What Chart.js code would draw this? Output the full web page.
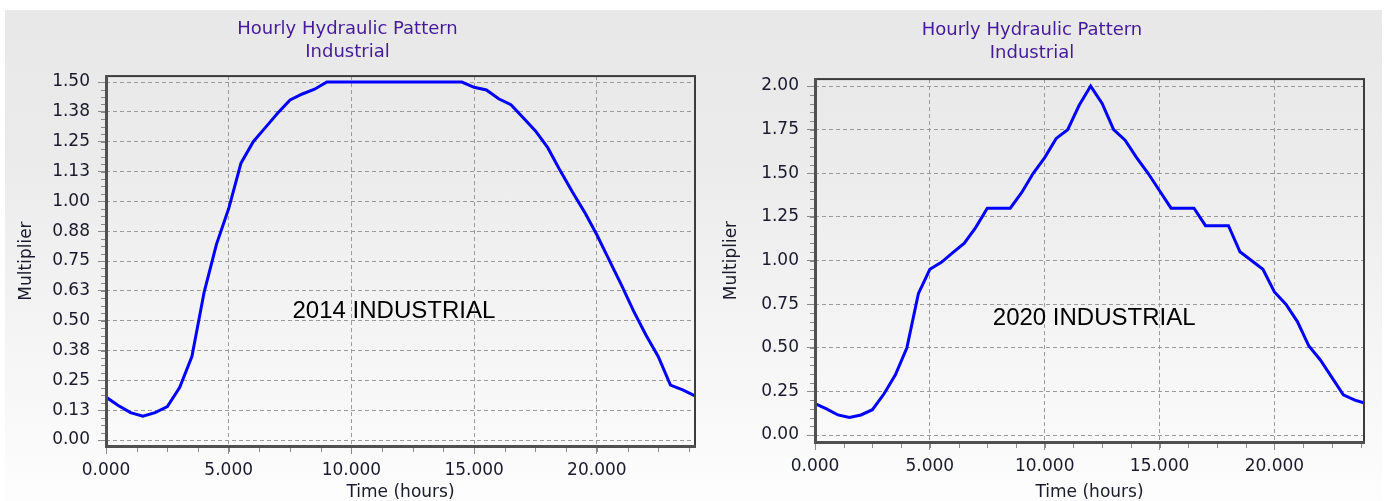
<!DOCTYPE html>
<html>
<head>
<meta charset="utf-8">
<script src="https://cdn.jsdelivr.net/npm/chart.js@4.4.0/dist/chart.umd.min.js"></script>
<style>
  html, body { margin: 0; padding: 0; background: #fff; }
  body { width: 1390px; height: 501px; position: relative; overflow: hidden; }
  #panel {
    position: absolute; left: 5px; top: 10px; width: 1377px; height: 491px;
    background: linear-gradient(to bottom, #e8e8e8 0%, #ebebeb 30%, #fdfdfd 100%);
  }
  canvas { position: absolute; top: 0; }
  #chart2014 { left: 0; }
  #chart2020 { left: 700px; }
</style>
</head>
<body>
<div id="panel"></div>
<canvas id="chart2014" width="700" height="501"></canvas>
<canvas id="chart2020" width="690" height="501"></canvas>
<script>
// hours of the day (half-hour steps)
const hours = [0, 0.5, 1, 1.5, 2, 2.5, 3, 3.5, 4, 4.5, 5, 5.5, 6, 6.5, 7, 7.5, 8, 8.5,
  9, 9.5, 10, 10.5, 11, 11.5, 12, 12.5, 13, 13.5, 14, 14.5, 15, 15.5, 16, 16.5,
  17, 17.5, 18, 18.5, 19, 19.5, 20, 20.5, 21, 21.5, 22, 22.5, 23, 23.5, 24];

// 2014 industrial multiplier
const mult2014 = [0.18, 0.145, 0.115, 0.10, 0.115, 0.14, 0.22, 0.35, 0.62, 0.82, 0.97,
  1.16, 1.25, 1.31, 1.37, 1.425, 1.45, 1.47, 1.50, 1.50, 1.50, 1.50, 1.50, 1.50,
  1.50, 1.50, 1.50, 1.50, 1.50, 1.50, 1.478, 1.467, 1.43, 1.405, 1.35, 1.295, 1.225,
  1.13, 1.04, 0.955, 0.86, 0.755, 0.65, 0.54, 0.44, 0.35, 0.23, 0.21, 0.185];

// 2020 industrial multiplier
const mult2020 = [0.18, 0.15, 0.115, 0.10, 0.115, 0.145, 0.235, 0.345, 0.50, 0.81, 0.95,
  0.99, 1.045, 1.10, 1.19, 1.30, 1.30, 1.30, 1.39, 1.50, 1.59, 1.70, 1.75, 1.89,
  2.00, 1.90, 1.75, 1.69, 1.59, 1.50, 1.40, 1.30, 1.30, 1.30, 1.20, 1.20, 1.20,
  1.05, 1.00, 0.95, 0.82, 0.75, 0.65, 0.51, 0.43, 0.33, 0.23, 0.20, 0.18];

// tick values and labels
const xTicks = [0, 5, 10, 15, 20];
const xTickLabels = ['0.000', '5.000', '10.000', '15.000', '20.000'];
const yTicks2014 = [0, 0.125, 0.25, 0.375, 0.5, 0.625, 0.75, 0.875, 1, 1.125, 1.25, 1.375, 1.5];
const yTickLabels2014 = ['0.00', '0.13', '0.25', '0.38', '0.50', '0.63', '0.75', '0.88', '1.00', '1.13', '1.25', '1.38', '1.50'];
const yTicks2020 = [0, 0.25, 0.5, 0.75, 1, 1.25, 1.5, 1.75, 2];
const yTickLabels2020 = ['0.00', '0.25', '0.50', '0.75', '1.00', '1.25', '1.50', '1.75', '2.00'];

const TICK_COLOR = '#1a1a2c';
const FONT = 'DejaVu Sans';

// frame, minor ticks and the in-plot caption
const framePlugin = {
  id: 'frame',
  afterDatasetsDraw(chart, args, opts) {
    const { ctx, chartArea: a, scales } = chart;
    ctx.save();
    ctx.strokeStyle = '#8a8a8a';
    ctx.lineWidth = 1;
    ctx.beginPath();
    for (let v = scales.y.min; v <= scales.y.max; v += 0.0001) {
      v = Math.ceil(v / opts.yMinor) * opts.yMinor;
      if (v > scales.y.max) break;
      const y = Math.round(scales.y.getPixelForValue(v)) + 0.5;
      ctx.moveTo(a.left - 5, y);
      ctx.lineTo(a.left, y);
    }
    for (let v = 0; v <= scales.x.max + 1e-9; v += opts.xMinor) {
      const x = Math.round(scales.x.getPixelForValue(v)) + 0.5;
      ctx.moveTo(x, a.bottom);
      ctx.lineTo(x, a.bottom + 6);
    }
    ctx.stroke();

    // plot border: heavier left and bottom
    ctx.fillStyle = '#3c3c3c';
    ctx.fillRect(a.left, a.top - 1, a.right - a.left, 2);
    ctx.fillRect(a.right - 1, a.top - 1, 2, a.bottom - a.top + 2);
    ctx.fillStyle = '#505050';
    ctx.fillRect(a.left - 1, a.top - 1, 3, a.bottom - a.top + 3);
    ctx.fillRect(a.left - 1, a.bottom - 1, a.right - a.left + 2, 3);

    ctx.font = '24px "Liberation Sans", Arial, sans-serif';
    ctx.fillStyle = '#000';
    ctx.textBaseline = 'middle';
    ctx.textAlign = 'left';
    ctx.fillText(opts.caption, scales.x.getPixelForValue(opts.captionX), scales.y.getPixelForValue(opts.captionY));
    ctx.restore();
  }
};

function makeChart(id, values, cfg) {
  return new Chart(document.getElementById(id), {
    type: 'line',
    data: {
      datasets: [{
        data: hours.map((h, i) => ({ x: h, y: values[i] })),
        borderColor: '#0000ff',
        borderWidth: 3,
        pointRadius: 0,
        tension: 0,
        fill: false
      }]
    },
    options: {
      responsive: false,
      animation: false,
      events: [],
      layout: { padding: { left: 0, right: cfg.padRight, top: 0, bottom: 0 } },
      plugins: {
        legend: { display: false },
        tooltip: { enabled: false },
        title: {
          display: true,
          text: ['Hourly Hydraulic Pattern', 'Industrial'],
          color: '#441a9a',
          font: { family: FONT, size: 18, weight: 'normal', lineHeight: 1.28 },
          padding: { top: cfg.titleTop, bottom: cfg.titleBottom }
        },
        frame: {
          yMinor: cfg.yMinor, xMinor: 1.25,
          caption: cfg.caption, captionX: cfg.captionX, captionY: cfg.captionY
        }
      },
      scales: {
        x: {
          type: 'linear',
          min: 0,
          max: cfg.xMax,
          afterBuildTicks: ax => { ax.ticks = xTicks.map(v => ({ value: v })); },
          afterFit: ax => { ax.height = cfg.xAxisHeight; },
          ticks: {
            callback: (v, i) => xTickLabels[i],
            color: TICK_COLOR,
            font: { family: FONT, size: 17 },
            padding: 6,
            maxRotation: 0,
            autoSkip: false
          },
          grid: { color: '#9a9a9a', tickColor: '#8a8a8a', tickLength: 8 },
          border: { display: false, dash: [4, 3] },
          title: {
            display: true, text: 'Time (hours)', color: TICK_COLOR,
            font: { family: FONT, size: 17, lineHeight: 1 },
            padding: { top: 0, bottom: 0 }
          }
        },
        y: {
          min: cfg.yMin,
          max: cfg.yMax,
          afterBuildTicks: ax => { ax.ticks = cfg.yTicks.map(v => ({ value: v })); },
          afterFit: ax => { ax.width = cfg.yAxisWidth; },
          ticks: {
            callback: (v, i) => cfg.yTickLabels[i],
            color: TICK_COLOR,
            font: { family: FONT, size: 17 },
            padding: 8,
            autoSkip: false
          },
          grid: { color: '#9a9a9a', tickColor: '#8a8a8a', tickLength: 8 },
          border: { display: false, dash: [4, 3] },
          title: {
            display: true, text: 'Multiplier', color: TICK_COLOR,
            font: { family: FONT, size: 17, lineHeight: 1.2 },
            padding: { top: cfg.yTitlePad, bottom: 0 }
          }
        }
      }
    },
    plugins: [framePlugin]
  });
}

makeChart('chart2014', mult2014, {
  padRight: 5, titleTop: 17.5, titleBottom: 12.5,
  xMax: 24, xAxisHeight: 55, yAxisWidth: 106, yTitlePad: 16,
  yMin: -0.025, yMax: 1.525, yTicks: yTicks2014, yTickLabels: yTickLabels2014,
  yMinor: 0.03125, caption: '2014 INDUSTRIAL', captionX: 7.6, captionY: 0.537
});

makeChart('chart2020', mult2020, {
  padRight: 26, titleTop: 18.5, titleBottom: 14.5,
  xMax: 23.9, xAxisHeight: 59, yAxisWidth: 115, yTitlePad: 21.5,
  yMin: -0.04, yMax: 2.04, yTicks: yTicks2020, yTickLabels: yTickLabels2020,
  yMinor: 0.05, caption: '2020 INDUSTRIAL', captionX: 7.74, captionY: 0.67
});
</script>
</body>
</html>
